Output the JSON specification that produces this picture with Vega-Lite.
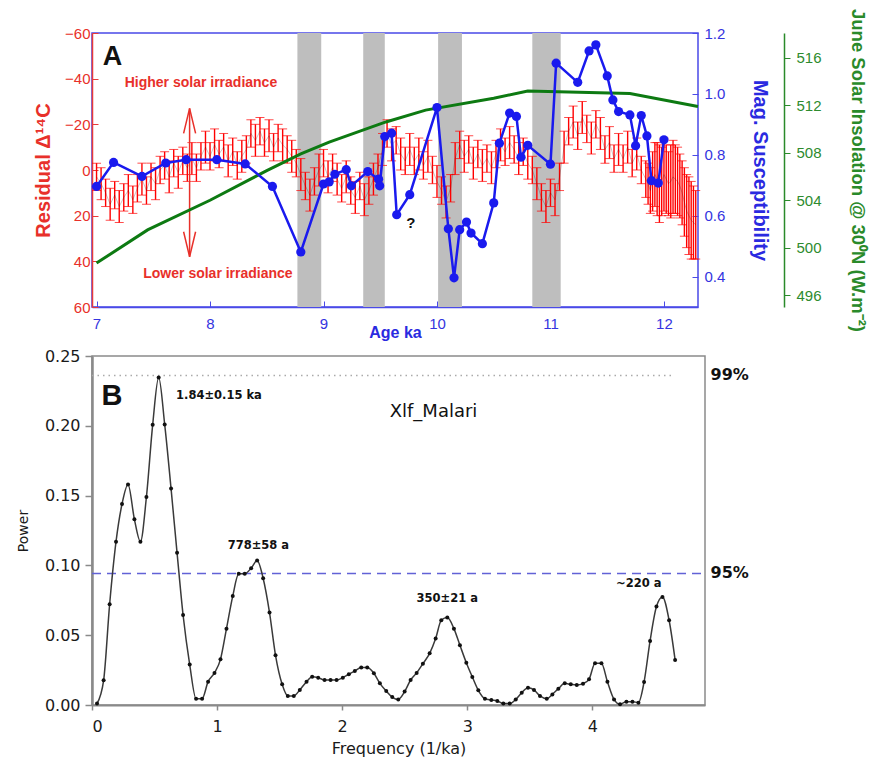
{
  "$schema": "https://vega.github.io/schema/vega-lite/v6.json",
  "background": "white",
  "padding": {"left": 15, "top": 7, "right": 2, "bottom": 5},
  "config": {"font": "Liberation Sans"},
  "spacing": 6,
  "datasets": {
    "bands": [{"a1": 8.77, "a2": 8.98}, {"a1": 9.35, "a2": 9.54}, {"a1": 10.01, "a2": 10.22}, {"a1": 10.84, "a2": 11.09}],
    "red": [
      {"a": 7.00, "r": 3, "e": 6}, {"a": 7.04, "r": 6, "e": 7}, {"a": 7.08, "r": 10, "e": 6}, {"a": 7.12, "r": 15, "e": 7},
      {"a": 7.16, "r": 11, "e": 6}, {"a": 7.20, "r": 16, "e": 7}, {"a": 7.24, "r": 12, "e": 6}, {"a": 7.28, "r": 9, "e": 7},
      {"a": 7.32, "r": 13, "e": 6}, {"a": 7.36, "r": 8, "e": 6}, {"a": 7.40, "r": 4, "e": 7}, {"a": 7.44, "r": 9, "e": 6},
      {"a": 7.48, "r": 3, "e": 6}, {"a": 7.52, "r": 6, "e": 7}, {"a": 7.56, "r": 0, "e": 6}, {"a": 7.60, "r": -2, "e": 6},
      {"a": 7.64, "r": 3, "e": 7}, {"a": 7.68, "r": -3, "e": 6}, {"a": 7.72, "r": 1, "e": 7}, {"a": 7.76, "r": -4, "e": 6},
      {"a": 7.80, "r": -1, "e": 6}, {"a": 7.84, "r": -5, "e": 7}, {"a": 7.88, "r": -1, "e": 6}, {"a": 7.92, "r": -6, "e": 6},
      {"a": 7.96, "r": -10, "e": 7}, {"a": 8.00, "r": -6, "e": 6}, {"a": 8.04, "r": -11, "e": 7}, {"a": 8.08, "r": -7, "e": 6},
      {"a": 8.12, "r": -10, "e": 6}, {"a": 8.16, "r": -4, "e": 7}, {"a": 8.20, "r": -8, "e": 6}, {"a": 8.24, "r": -2, "e": 6},
      {"a": 8.28, "r": -6, "e": 7}, {"a": 8.32, "r": -9, "e": 6}, {"a": 8.36, "r": -16, "e": 6}, {"a": 8.40, "r": -13, "e": 7},
      {"a": 8.44, "r": -17, "e": 6}, {"a": 8.48, "r": -12, "e": 6}, {"a": 8.52, "r": -15, "e": 7}, {"a": 8.56, "r": -10, "e": 6},
      {"a": 8.60, "r": -14, "e": 6}, {"a": 8.64, "r": -11, "e": 7}, {"a": 8.68, "r": -9, "e": 6}, {"a": 8.72, "r": -6, "e": 7},
      {"a": 8.76, "r": -3, "e": 6}, {"a": 8.80, "r": 2, "e": 7}, {"a": 8.84, "r": 7, "e": 6}, {"a": 8.88, "r": 11, "e": 7},
      {"a": 8.92, "r": 5, "e": 6}, {"a": 8.96, "r": 0, "e": 7}, {"a": 9.00, "r": -3, "e": 6}, {"a": 9.04, "r": 3, "e": 7},
      {"a": 9.08, "r": -1, "e": 6}, {"a": 9.12, "r": 4, "e": 7}, {"a": 9.16, "r": 8, "e": 6}, {"a": 9.20, "r": 3, "e": 7},
      {"a": 9.24, "r": 9, "e": 6}, {"a": 9.28, "r": 12, "e": 7}, {"a": 9.32, "r": 7, "e": 6}, {"a": 9.36, "r": 13, "e": 7},
      {"a": 9.40, "r": 9, "e": 6}, {"a": 9.44, "r": 4, "e": 7}, {"a": 9.48, "r": -1, "e": 6}, {"a": 9.52, "r": -9, "e": 7},
      {"a": 9.56, "r": -16, "e": 6}, {"a": 9.60, "r": -11, "e": 7}, {"a": 9.64, "r": -13, "e": 6}, {"a": 9.68, "r": -7, "e": 7},
      {"a": 9.72, "r": -4, "e": 6}, {"a": 9.76, "r": -9, "e": 7}, {"a": 9.80, "r": -4, "e": 6}, {"a": 9.84, "r": -7, "e": 7},
      {"a": 9.88, "r": -2, "e": 6}, {"a": 9.92, "r": -6, "e": 7}, {"a": 9.96, "r": 0, "e": 6}, {"a": 10.00, "r": 5, "e": 7},
      {"a": 10.04, "r": 9, "e": 6}, {"a": 10.08, "r": 14, "e": 7}, {"a": 10.12, "r": 8, "e": 6}, {"a": 10.16, "r": -5, "e": 7},
      {"a": 10.20, "r": -11, "e": 6}, {"a": 10.24, "r": -6, "e": 7}, {"a": 10.28, "r": -9, "e": 6}, {"a": 10.32, "r": -3, "e": 7},
      {"a": 10.36, "r": -7, "e": 6}, {"a": 10.40, "r": -2, "e": 7}, {"a": 10.44, "r": -5, "e": 6}, {"a": 10.48, "r": -1, "e": 7},
      {"a": 10.52, "r": -7, "e": 6}, {"a": 10.56, "r": -11, "e": 7}, {"a": 10.60, "r": -8, "e": 6}, {"a": 10.64, "r": -12, "e": 7},
      {"a": 10.68, "r": -9, "e": 6}, {"a": 10.72, "r": -5, "e": 7}, {"a": 10.76, "r": -8, "e": 6}, {"a": 10.80, "r": -3, "e": 7},
      {"a": 10.84, "r": 0, "e": 6}, {"a": 10.88, "r": 6, "e": 7}, {"a": 10.92, "r": 12, "e": 6}, {"a": 10.96, "r": 16, "e": 7},
      {"a": 11.00, "r": 10, "e": 6}, {"a": 11.04, "r": 13, "e": 7}, {"a": 11.08, "r": 3, "e": 6}, {"a": 11.12, "r": -10, "e": 7},
      {"a": 11.16, "r": -17, "e": 6}, {"a": 11.20, "r": -21, "e": 7}, {"a": 11.24, "r": -15, "e": 6}, {"a": 11.28, "r": -23, "e": 7},
      {"a": 11.32, "r": -18, "e": 6}, {"a": 11.36, "r": -14, "e": 7}, {"a": 11.40, "r": -20, "e": 6}, {"a": 11.44, "r": -16, "e": 7},
      {"a": 11.48, "r": -9, "e": 6}, {"a": 11.52, "r": -12, "e": 7}, {"a": 11.56, "r": -5, "e": 6}, {"a": 11.60, "r": -9, "e": 7},
      {"a": 11.64, "r": -5, "e": 6}, {"a": 11.68, "r": -10, "e": 7}, {"a": 11.72, "r": -3, "e": 6}, {"a": 11.76, "r": -7, "e": 7},
      {"a": 11.80, "r": 0, "e": 6}, {"a": 11.84, "r": 4, "e": 8}, {"a": 11.86, "r": 6, "e": 9}, {"a": 11.88, "r": 9, "e": 10},
      {"a": 11.90, "r": 5, "e": 13}, {"a": 11.92, "r": 2, "e": 14}, {"a": 11.94, "r": 4, "e": 16}, {"a": 11.96, "r": 6, "e": 17},
      {"a": 11.98, "r": 5, "e": 15}, {"a": 12.00, "r": 2, "e": 16}, {"a": 12.02, "r": 4, "e": 15}, {"a": 12.04, "r": 6, "e": 14},
      {"a": 12.06, "r": 5, "e": 16}, {"a": 12.08, "r": 3, "e": 16}, {"a": 12.10, "r": 4, "e": 15}, {"a": 12.12, "r": 5, "e": 15},
      {"a": 12.14, "r": 7, "e": 14}, {"a": 12.16, "r": 10, "e": 14}, {"a": 12.18, "r": 14, "e": 15}, {"a": 12.20, "r": 18, "e": 16},
      {"a": 12.22, "r": 20, "e": 17}, {"a": 12.24, "r": 22, "e": 17}, {"a": 12.26, "r": 23, "e": 16}, {"a": 12.28, "r": 24, "e": 15}
    ],
    "green": [
      {"a": 7.00, "ins": 498.7}, {"a": 7.45, "ins": 501.5}, {"a": 8.00, "ins": 504.0}, {"a": 8.50, "ins": 506.5},
      {"a": 8.80, "ins": 507.9}, {"a": 9.05, "ins": 508.9}, {"a": 9.55, "ins": 510.6}, {"a": 9.90, "ins": 511.6},
      {"a": 10.50, "ins": 512.6}, {"a": 10.80, "ins": 513.2}, {"a": 11.70, "ins": 513.0}, {"a": 12.30, "ins": 511.9}
    ],
    "blue": [
      {"a": 7.00, "ms": 0.696}, {"a": 7.15, "ms": 0.775}, {"a": 7.40, "ms": 0.729}, {"a": 7.61, "ms": 0.773},
      {"a": 7.79, "ms": 0.784}, {"a": 8.06, "ms": 0.784}, {"a": 8.31, "ms": 0.770}, {"a": 8.55, "ms": 0.696},
      {"a": 8.80, "ms": 0.481}, {"a": 9.00, "ms": 0.704}, {"a": 9.05, "ms": 0.711}, {"a": 9.10, "ms": 0.736},
      {"a": 9.20, "ms": 0.751}, {"a": 9.245, "ms": 0.698}, {"a": 9.39, "ms": 0.745}, {"a": 9.485, "ms": 0.720},
      {"a": 9.495, "ms": 0.698}, {"a": 9.54, "ms": 0.860}, {"a": 9.60, "ms": 0.871}, {"a": 9.645, "ms": 0.603},
      {"a": 9.76, "ms": 0.669}, {"a": 10.00, "ms": 0.955}, {"a": 10.10, "ms": 0.557}, {"a": 10.15, "ms": 0.396},
      {"a": 10.20, "ms": 0.554}, {"a": 10.26, "ms": 0.579}, {"a": 10.30, "ms": 0.543}, {"a": 10.40, "ms": 0.508},
      {"a": 10.50, "ms": 0.642}, {"a": 10.55, "ms": 0.838}, {"a": 10.64, "ms": 0.937}, {"a": 10.70, "ms": 0.926},
      {"a": 10.74, "ms": 0.792}, {"a": 10.80, "ms": 0.831}, {"a": 11.00, "ms": 0.769}, {"a": 11.05, "ms": 1.101},
      {"a": 11.24, "ms": 1.038}, {"a": 11.34, "ms": 1.141}, {"a": 11.40, "ms": 1.161}, {"a": 11.50, "ms": 1.059},
      {"a": 11.55, "ms": 0.980}, {"a": 11.60, "ms": 0.942}, {"a": 11.70, "ms": 0.931}, {"a": 11.75, "ms": 0.830},
      {"a": 11.80, "ms": 0.929}, {"a": 11.85, "ms": 0.862}, {"a": 11.89, "ms": 0.715}, {"a": 11.95, "ms": 0.707},
      {"a": 12.00, "ms": 0.849}
    ],
    "spec": [
      {"f": 0.04, "p": 0.001}, {"f": 0.093, "p": 0.0177}, {"f": 0.141, "p": 0.0722}, {"f": 0.192, "p": 0.117},
      {"f": 0.24, "p": 0.144}, {"f": 0.288, "p": 0.158}, {"f": 0.339, "p": 0.133}, {"f": 0.387, "p": 0.117},
      {"f": 0.435, "p": 0.149}, {"f": 0.485, "p": 0.2007}, {"f": 0.533, "p": 0.2346}, {"f": 0.581, "p": 0.201},
      {"f": 0.632, "p": 0.155}, {"f": 0.68, "p": 0.109}, {"f": 0.728, "p": 0.0645}, {"f": 0.781, "p": 0.029},
      {"f": 0.832, "p": 0.0045}, {"f": 0.88, "p": 0.0045}, {"f": 0.928, "p": 0.0167}, {"f": 0.979, "p": 0.023},
      {"f": 1.027, "p": 0.0327}, {"f": 1.075, "p": 0.0547}, {"f": 1.125, "p": 0.078}, {"f": 1.173, "p": 0.094},
      {"f": 1.221, "p": 0.094}, {"f": 1.272, "p": 0.098}, {"f": 1.32, "p": 0.1035}, {"f": 1.368, "p": 0.0908},
      {"f": 1.419, "p": 0.0662}, {"f": 1.467, "p": 0.0356}, {"f": 1.52, "p": 0.0148}, {"f": 1.565, "p": 0.0065},
      {"f": 1.613, "p": 0.0065}, {"f": 1.661, "p": 0.0108}, {"f": 1.715, "p": 0.0167}, {"f": 1.76, "p": 0.0203},
      {"f": 1.808, "p": 0.0196}, {"f": 1.859, "p": 0.0179}, {"f": 1.907, "p": 0.0179}, {"f": 1.955, "p": 0.0179},
      {"f": 2.005, "p": 0.0196}, {"f": 2.053, "p": 0.022}, {"f": 2.101, "p": 0.0244}, {"f": 2.152, "p": 0.0268},
      {"f": 2.2, "p": 0.0268}, {"f": 2.253, "p": 0.0227}, {"f": 2.301, "p": 0.0155}, {"f": 2.352, "p": 0.01},
      {"f": 2.4, "p": 0.0057}, {"f": 2.448, "p": 0.004}, {"f": 2.499, "p": 0.0096}, {"f": 2.547, "p": 0.0179},
      {"f": 2.595, "p": 0.023}, {"f": 2.645, "p": 0.0296}, {"f": 2.699, "p": 0.037}, {"f": 2.747, "p": 0.0476},
      {"f": 2.792, "p": 0.0607}, {"f": 2.84, "p": 0.0626}, {"f": 2.893, "p": 0.0547}, {"f": 2.941, "p": 0.0428},
      {"f": 2.992, "p": 0.0303}, {"f": 3.04, "p": 0.0201}, {"f": 3.088, "p": 0.0105}, {"f": 3.141, "p": 0.0045},
      {"f": 3.192, "p": 0.0036}, {"f": 3.24, "p": 0.0029}, {"f": 3.288, "p": 0.001}, {"f": 3.339, "p": 0.001},
      {"f": 3.387, "p": 0.004}, {"f": 3.435, "p": 0.0088}, {"f": 3.485, "p": 0.0124}, {"f": 3.533, "p": 0.0108},
      {"f": 3.581, "p": 0.0065}, {"f": 3.635, "p": 0.0045}, {"f": 3.68, "p": 0.0076}, {"f": 3.728, "p": 0.0117},
      {"f": 3.779, "p": 0.0155}, {"f": 3.827, "p": 0.0148}, {"f": 3.875, "p": 0.0143}, {"f": 3.925, "p": 0.0153},
      {"f": 3.973, "p": 0.0184}, {"f": 4.021, "p": 0.0299}, {"f": 4.072, "p": 0.0299}, {"f": 4.12, "p": 0.0167},
      {"f": 4.173, "p": 0.004}, {"f": 4.221, "p": 0.0005}, {"f": 4.272, "p": 0.0024}, {"f": 4.32, "p": 0.0024},
      {"f": 4.368, "p": 0.0017}, {"f": 4.413, "p": 0.0165}, {"f": 4.461, "p": 0.0459}, {"f": 4.512, "p": 0.0705},
      {"f": 4.56, "p": 0.0774}, {"f": 4.613, "p": 0.0607}, {"f": 4.661, "p": 0.0323}
    ]
  },
  "vconcat": [
    {
      "width": 606,
      "height": 274,
      "view": {"stroke": "#4a4ae8", "strokeWidth": 1.5},
      "encoding": {
        "x": {"field": "a", "type": "quantitative", "title": "Age ka",
          "scale": {"domain": [6.96, 12.3], "nice": false, "zero": false},
          "axis": {"values": [7, 8, 9, 10, 11, 12], "format": "d", "grid": false, "domainColor": "#4a4ae8", "domainWidth": 1.5,
            "tickColor": "#4a4ae8", "tickSize": -6, "labelColor": "#3434e0", "labelFontSize": 15, "labelPadding": 15,
            "titleColor": "#2a2ae0", "titleFontSize": 16, "titleFontWeight": "bold", "titlePadding": -7}}
      },
      "layer": [
        {
          "layer": [
            {
              "data": {"name": "bands"},
              "mark": {"type": "rect", "color": "#bebebe"},
              "encoding": {
                "x": {"field": "a1", "type": "quantitative"},
                "x2": {"field": "a2"}
              }
            },
            {
              "data": {"name": "red"},
              "mark": {"type": "errorbar", "color": "#ff0000", "ticks": {"size": 9}, "rule": {"strokeWidth": 1.4}},
              "encoding": {
                "y": {"field": "r", "type": "quantitative", "title": "Residual Δ¹⁴C",
                  "scale": {"domain": [-60, 60], "reverse": true, "nice": false, "zero": false},
                  "axis": {"orient": "left", "values": [-60, -40, -20, 0, 20, 40, 60], "grid": false,
                    "domainColor": "#e83a3a", "domainWidth": 1.5, "tickColor": "#e83a3a", "tickSize": -6,
                    "labelColor": "#e8302a", "labelFontSize": 15, "labelPadding": 8,
                    "titleColor": "#e8302a", "titleFontSize": 20, "titleFontWeight": "bold", "titlePadding": 11}},
                "yError": {"field": "e"}
              }
            },
            {
              "data": {"name": "red"},
              "mark": {"type": "line", "color": "#3a0000", "strokeWidth": 0.6, "opacity": 0.4},
              "encoding": {
                "y": {"field": "r", "type": "quantitative"}
              }
            },
            {
              "data": {"values": [{"a": 7.82, "r1": -27, "r2": 38}]},
              "mark": {"type": "rule", "color": "#e8302a", "strokeWidth": 1.5},
              "encoding": {
                "y": {"field": "r1", "type": "quantitative"},
                "y2": {"field": "r2"}
              }
            },
            {
              "data": {"values": [{"a": 7.82, "r": -27, "d": "up"}, {"a": 7.82, "r": 38, "d": "down"}]},
              "mark": {"type": "point", "filled": false, "color": "#e8302a", "strokeWidth": 1.5, "size": 100, "opacity": 1},
              "encoding": {
                "y": {"field": "r", "type": "quantitative"},
                "shape": {"field": "d", "type": "nominal", "legend": null,
                  "scale": {"domain": ["up", "down"], "range": ["M-1.2,5L0,0L1.2,5", "M-1.2,-5L0,0L1.2,-5"]}}
              }
            },
            {
              "data": {"values": [{"a": 7.92, "r": -38, "t": "Higher solar irradiance"}, {"a": 8.07, "r": 45.6, "t": "Lower solar irradiance"}]},
              "mark": {"type": "text", "color": "#e8302a", "fontSize": 14, "fontWeight": "bold"},
              "encoding": {
                "y": {"field": "r", "type": "quantitative"},
                "text": {"field": "t"}
              }
            },
            {
              "data": {"values": [{"a": 7.14, "r": -49.5, "t": "A"}]},
              "mark": {"type": "text", "color": "#111111", "fontWeight": "bold", "fontSize": 27},
              "encoding": {
                "y": {"field": "r", "type": "quantitative"},
                "text": {"field": "t"}
              }
            },
            {
              "data": {"values": [{"a": 9.77, "r": 23, "t": "?"}]},
              "mark": {"type": "text", "color": "#111111", "fontWeight": "bold", "fontSize": 15},
              "encoding": {
                "y": {"field": "r", "type": "quantitative"},
                "text": {"field": "t"}
              }
            }
          ]
        },
        {
          "data": {"name": "green"},
          "mark": {"type": "line", "color": "#0d7a12", "strokeWidth": 3},
          "encoding": {
            "y": {"field": "ins", "type": "quantitative", "title": "June Solar Insolation @ 30⁰N (W.m⁻²)",
              "scale": {"domain": [495, 518.1], "nice": false, "zero": false},
              "axis": {"orient": "right", "offset": 86, "values": [496, 500, 504, 508, 512, 516], "grid": false,
                "domainColor": "#2a8a2a", "domainWidth": 1.5, "tickColor": "#2a8a2a", "tickSize": 6,
                "labelColor": "#2e8b2e", "labelFontSize": 15, "labelPadding": 6,
                "titleColor": "#2a8a2a", "titleFontSize": 18.5, "titleFontWeight": "bold", "titlePadding": 26}}
          }
        },
        {
          "data": {"name": "blue"},
          "layer": [
            {"mark": {"type": "line", "color": "#1a1aee", "strokeWidth": 2.5}},
            {"mark": {"type": "point", "filled": true, "color": "#1a1aee", "size": 85, "opacity": 1}}
          ],
          "encoding": {
            "y": {"field": "ms", "type": "quantitative", "title": "Mag. Susceptibility",
              "scale": {"domain": [0.3, 1.2], "nice": false, "zero": false},
              "axis": {"orient": "right", "values": [0.4, 0.6, 0.8, 1.0, 1.2], "format": ".1f", "grid": false,
                "domain": false, "tickColor": "#4a4ae8", "tickSize": -6,
                "labelColor": "#3434e0", "labelFontSize": 15, "labelPadding": 12,
                "titleColor": "#2a2ae0", "titleFontSize": 20, "titleFontWeight": "bold", "titlePadding": 25}}
          }
        }
      ],
      "resolve": {"scale": {"y": "independent"}, "axis": {"y": "independent"}}
    },
    {
      "width": 613,
      "height": 349,
      "view": {"stroke": "#8a8a8a", "strokeWidth": 1.5},
      "encoding": {
        "x": {"field": "f", "type": "quantitative", "title": "Frequency (1/ka)",
          "scale": {"domain": [0, 4.9], "nice": false, "zero": false},
          "axis": {"values": [0, 1, 2, 3, 4], "format": "d", "grid": false, "domainColor": "#8a8a8a", "domainWidth": 2,
            "tickColor": "#8a8a8a", "tickSize": 5, "tickWidth": 1.5, "labelColor": "#1a1a1a", "labelFont": "DejaVu Sans",
            "labelFontSize": 16, "labelPadding": 8, "titleColor": "#1a1a1a", "titleFont": "DejaVu Sans",
            "titleFontSize": 16, "titleFontWeight": "normal", "titlePadding": 6}},
        "y": {"field": "p", "type": "quantitative", "title": "Power",
          "scale": {"domain": [0, 0.25], "nice": false, "zero": false},
          "axis": {"values": [0, 0.05, 0.1, 0.15, 0.2, 0.25], "format": ".2f", "grid": false, "domainColor": "#8a8a8a", "domainWidth": 2.5,
            "tickColor": "#8a8a8a", "tickSize": 7, "tickWidth": 1.5, "labelColor": "#1a1a1a", "labelFont": "DejaVu Sans",
            "labelFontSize": 16, "labelPadding": 5, "titleColor": "#1a1a1a", "titleFont": "DejaVu Sans",
            "titleFontSize": 14, "titleFontWeight": "normal", "titlePadding": 14}}
      },
      "layer": [
        {
          "data": {"values": [{"f": 0, "f2": 4.66, "p": 0.236}]},
          "mark": {"type": "rule", "color": "#aaaaaa", "strokeWidth": 1.5, "strokeDash": [1.5, 4]},
          "encoding": {"x2": {"field": "f2"}}
        },
        {
          "data": {"values": [{"f": 0, "f2": 4.9, "p": 0.0942}]},
          "mark": {"type": "rule", "color": "#6262d6", "strokeWidth": 1.5, "strokeDash": [9, 6]},
          "encoding": {"x2": {"field": "f2"}}
        },
        {
          "data": {"name": "spec"},
          "mark": {"type": "line", "color": "#3a3a3a", "strokeWidth": 1.5, "interpolate": "monotone"}
        },
        {
          "data": {"name": "spec"},
          "mark": {"type": "point", "filled": true, "color": "#111111", "size": 16, "opacity": 1}
        },
        {
          "data": {"values": [
            {"f": 1.33, "p": 0.1138, "t": "778±58 a"},
            {"f": 2.84, "p": 0.0758, "t": "350±21 a"},
            {"f": 4.37, "p": 0.0865, "t": "~220 a"}
          ]},
          "mark": {"type": "text", "font": "DejaVu Sans", "fontSize": 11.5, "fontWeight": "bold", "color": "#111111"},
          "encoding": {"text": {"field": "t"}}
        },
        {
          "data": {"values": [{"f": 0.672, "p": 0.2213, "t": "1.84±0.15 ka"}]},
          "mark": {"type": "text", "font": "DejaVu Sans", "fontSize": 11.5, "fontWeight": "bold", "color": "#111111", "align": "left"},
          "encoding": {"text": {"field": "t"}}
        },
        {
          "data": {"values": [{"f": 0.16, "p": 0.2213, "t": "B"}]},
          "mark": {"type": "text", "fontSize": 29, "fontWeight": "bold", "color": "#111111"},
          "encoding": {"text": {"field": "t"}}
        },
        {
          "data": {"values": [{"f": 2.73, "p": 0.21, "t": "Xlf_Malari"}]},
          "mark": {"type": "text", "font": "DejaVu Sans", "fontSize": 18, "color": "#111111"},
          "encoding": {"text": {"field": "t"}}
        },
        {
          "data": {"values": [{"f": 4.944, "p": 0.2363, "t": "99%"}, {"f": 4.944, "p": 0.0944, "t": "95%"}]},
          "mark": {"type": "text", "font": "DejaVu Sans", "fontSize": 16, "fontWeight": "bold", "color": "#111111", "align": "left"},
          "encoding": {"text": {"field": "t"}}
        }
      ]
    }
  ]
}
